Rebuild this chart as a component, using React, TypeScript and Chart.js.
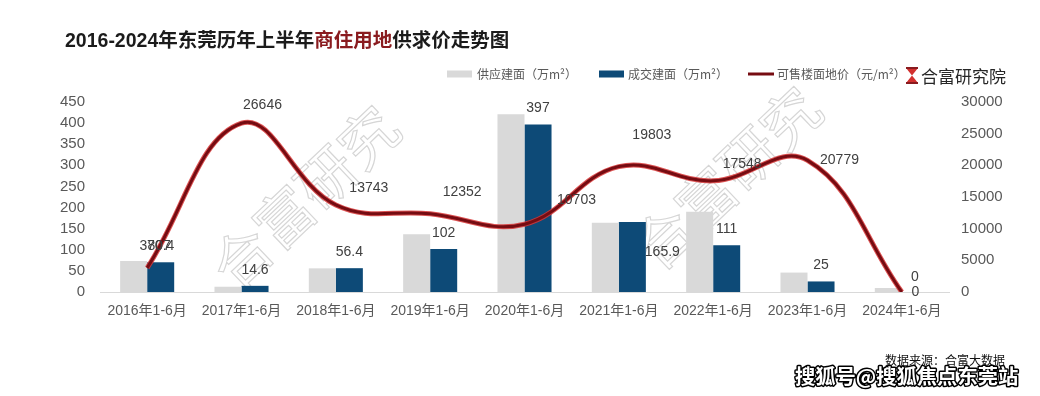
import React, { useEffect, useRef } from "react";
import { Chart, registerables } from "chart.js";

Chart.register(...registerables);

// ---------- data ----------
const categories = [
  "2016年1-6月",
  "2017年1-6月",
  "2018年1-6月",
  "2019年1-6月",
  "2020年1-6月",
  "2021年1-6月",
  "2022年1-6月",
  "2023年1-6月",
  "2024年1-6月",
];
const supplyArea = [73.4, 12.5, 56, 137, 421, 164, 190, 46, 9.5];
const dealArea = [70.4, 14.6, 56.4, 102, 397, 165.9, 111, 25, 0];
const landPrice = [3807, 26646, 13743, 12352, 10703, 19803, 17548, 20779, 0];

const leftAxisMax = 450;
const leftAxisStep = 50;
const rightAxisMax = 30000;
const rightAxisStep = 5000;

const seriesNames = ["供应建面（万m²）", "成交建面（万m²）", "可售楼面地价（元/m²）"];
const titleParts: [string, string][] = [
  ["2016-2024年东莞历年上半年", "#1b1b1b"],
  ["商住用地", "#8a1b1f"],
  ["供求价走势图", "#1b1b1b"],
];
const logoText = "合富研究院";
const watermarkText = "合富研究";
const sourceText = "数据来源：合富大数据";
const sohuText = "搜狐号@搜狐焦点东莞站";

// ---------- label layout (offsets in px, not data) ----------
const dealLabelDx = [0, 0, 0, 0, 0, 30, 0, 0, 0];
const dealLabelDy = [-16, -16, -16, -16, -16, 30, -16, -16, 0];
const priceLabelDx = [8, 21, 33, 32, 52, 33, 29, 32, 13];
const priceLabelDy = [-22, -18, -17, -22, -24, -31, -17, 0, -15];

// ---------- styles ----------
const GRAY = "#d9d9d9";
const NAVY = "#0d4a77";
const LINE_CORE = "#760c12";
const LINE_HALO = "rgba(214,52,52,0.85)";
const LATIN = "'Liberation Sans', Arial, 'Noto Sans CJK SC', sans-serif";
const CJK = "'Noto Sans CJK SC', 'Liberation Sans', sans-serif";

const decorPlugin = {
  id: "decor",
  beforeDatasetsDraw(chart: any) {
    const ctx = chart.ctx as CanvasRenderingContext2D;
    ctx.save();
    ctx.strokeStyle = "#d6d6d6";
    ctx.lineWidth = 1.2;
    ctx.font = `58px ${CJK}`;
    ctx.textAlign = "center";
    ctx.textBaseline = "middle";
    const spots = [
      [305, 197],
      [727, 178],
    ];
    for (const [cx, cy] of spots) {
      ctx.save();
      ctx.translate(cx, cy);
      ctx.rotate(-0.76);
      ctx.strokeText(watermarkText, 0, 0);
      ctx.restore();
    }
    ctx.restore();
  },
  afterDatasetsDraw(chart: any) {
    const ctx = chart.ctx as CanvasRenderingContext2D;
    ctx.save();
    ctx.font = `14px ${LATIN}`;
    ctx.fillStyle = "#404040";
    ctx.textAlign = "center";
    ctx.textBaseline = "middle";
    const dealMeta = chart.getDatasetMeta(1);
    dealMeta.data.forEach((el: any, i: number) => {
      ctx.fillText(String(dealArea[i]), el.x + dealLabelDx[i], el.y + dealLabelDy[i]);
    });
    const priceMeta = chart.getDatasetMeta(3);
    priceMeta.data.forEach((el: any, i: number) => {
      ctx.fillText(String(landPrice[i]), el.x + priceLabelDx[i], el.y + priceLabelDy[i]);
    });
    ctx.restore();
  },
  afterDraw(chart: any) {
    const ctx = chart.ctx as CanvasRenderingContext2D;
    ctx.save();
    // title
    ctx.textBaseline = "middle";
    ctx.textAlign = "left";
    ctx.font = `bold 19.5px ${LATIN}`;
    let x = 65;
    for (const [t, c] of titleParts) {
      ctx.fillStyle = c;
      ctx.fillText(t, x, 42);
      x += ctx.measureText(t).width;
    }
    // legend
    const ly = 74;
    ctx.fillStyle = GRAY;
    ctx.fillRect(447, ly - 3.5, 25, 7);
    ctx.fillStyle = NAVY;
    ctx.fillRect(599, ly - 3.5, 25, 7);
    ctx.strokeStyle = LINE_CORE;
    ctx.lineWidth = 3;
    ctx.beginPath();
    ctx.moveTo(748, ly);
    ctx.lineTo(774, ly);
    ctx.stroke();
    ctx.font = `12px ${CJK}`;
    ctx.fillStyle = "#595959";
    ctx.fillText(seriesNames[0], 477, ly);
    ctx.fillText(seriesNames[1], 628, ly);
    ctx.fillText(seriesNames[2], 777, ly);
    // logo icon
    ctx.fillStyle = "#d2302e";
    ctx.beginPath();
    ctx.moveTo(906, 68);
    ctx.lineTo(918, 68);
    ctx.lineTo(912, 75.5);
    ctx.closePath();
    ctx.fill();
    ctx.beginPath();
    ctx.moveTo(906, 83);
    ctx.lineTo(918, 83);
    ctx.lineTo(912, 75.5);
    ctx.closePath();
    ctx.fill();
    ctx.fillStyle = "#8a1b1f";
    ctx.fillRect(906, 67, 12, 2);
    ctx.fillRect(906, 82, 12, 2);
    ctx.font = `17px ${CJK}`;
    ctx.fillStyle = "#262626";
    ctx.fillText(logoText, 921, 77);
    // source
    ctx.font = `12px ${CJK}`;
    ctx.fillStyle = "#111";
    ctx.fillText(sourceText, 885, 360);
    // sohu
    ctx.font = `bold 20.3px ${CJK}`;
    ctx.lineWidth = 3;
    ctx.strokeStyle = "#000";
    ctx.lineJoin = "round";
    ctx.strokeText(sohuText, 795, 376);
    ctx.fillStyle = "#fff";
    ctx.fillText(sohuText, 795, 376);
    ctx.restore();
  },
};

export default function App() {
  const ref = useRef<HTMLCanvasElement | null>(null);
  useEffect(() => {
    if (!ref.current) return;
    const chart = new Chart(ref.current, {
      type: "bar",
      data: {
        labels: categories,
        datasets: [
          {
            type: "bar",
            label: seriesNames[0],
            data: supplyArea,
            backgroundColor: GRAY,
            yAxisID: "y",
            order: 3,
            categoryPercentage: 0.573,
            barPercentage: 1,
          },
          {
            type: "bar",
            label: seriesNames[1],
            data: dealArea,
            backgroundColor: NAVY,
            yAxisID: "y",
            order: 3,
            categoryPercentage: 0.573,
            barPercentage: 1,
          },
          {
            type: "line",
            label: "halo",
            data: landPrice,
            borderColor: LINE_HALO,
            borderWidth: 5,
            pointRadius: 0,
            tension: 0.4,
            fill: false,
            yAxisID: "y1",
            order: 2,
          },
          {
            type: "line",
            label: seriesNames[2],
            data: landPrice,
            borderColor: LINE_CORE,
            borderWidth: 3,
            pointRadius: 0,
            tension: 0.4,
            fill: false,
            yAxisID: "y1",
            order: 1,
          },
        ] as any,
      },
      options: {
        responsive: false,
        animation: false,
        devicePixelRatio: 1,
        layout: { padding: { top: 102, left: 0, right: 0, bottom: 0 } },
        plugins: {
          legend: { display: false },
          title: { display: false },
          tooltip: { enabled: false },
        },
        scales: {
          x: {
            grid: { display: false, drawTicks: false },
            border: { display: true, color: "#d9d9d9", width: 1 },
            ticks: {
              color: "#595959",
              font: { family: LATIN, size: 14 },
              padding: 11,
              maxRotation: 0,
              autoSkip: false,
            },
            afterFit: (s: any) => {
              s.height = 104;
            },
          },
          y: {
            position: "left",
            min: 0,
            max: leftAxisMax,
            grid: { display: false, drawTicks: false },
            border: { display: false },
            ticks: {
              stepSize: leftAxisStep,
              color: "#595959",
              font: { family: LATIN, size: 15 },
              padding: 15,
              callback: (v: any) => String(v),
            },
            afterFit: (s: any) => {
              s.width = 100;
            },
          },
          y1: {
            position: "right",
            min: 0,
            max: rightAxisMax,
            grid: { display: false, drawTicks: false },
            border: { display: false },
            ticks: {
              stepSize: rightAxisStep,
              color: "#595959",
              font: { family: LATIN, size: 15 },
              padding: 12,
              callback: (v: any) => String(v),
            },
            afterFit: (s: any) => {
              s.width = 91;
            },
          },
        },
      } as any,
      plugins: [decorPlugin],
    });
    return () => chart.destroy();
  }, []);
  return (
    <div
      style={{
        position: "absolute",
        left: 0,
        top: 0,
        width: 1040,
        height: 396,
        background: "#fff",
      }}
    >
      <canvas ref={ref} width={1040} height={396} style={{ width: 1040, height: 396 }} />
    </div>
  );
}
